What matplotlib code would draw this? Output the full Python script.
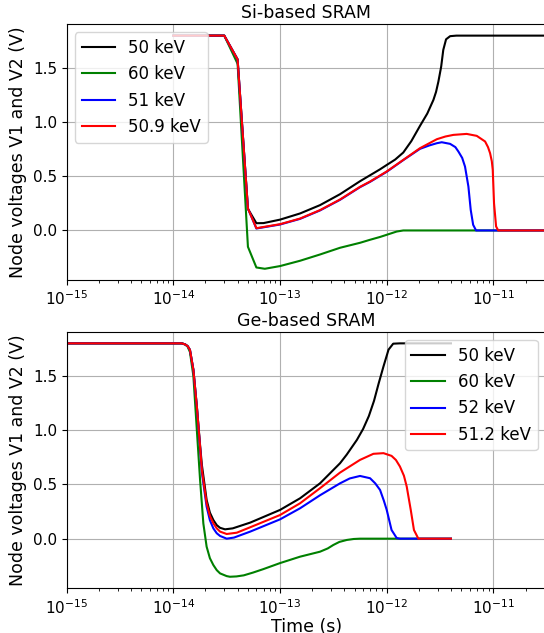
import matplotlib
matplotlib.use("Agg")
import matplotlib.pyplot as plt

# ---------------- Data: Si-based SRAM ----------------
si_labels = ["50 keV", "60 keV", "51 keV", "50.9 keV"]

si_t_50 = [1e-14, 2e-14, 3e-14, 4e-14, 5e-14, 6e-14, 7e-14, 1e-13, 1.54e-13, 2.37e-13,
           3.65e-13, 5.62e-13, 6.98e-13, 8.66e-13, 1e-12, 1.2e-12, 1.43e-12, 1.7e-12,
           2.05e-12, 2.4e-12, 2.74e-12, 2.9e-12, 3.05e-12, 3.24e-12, 3.39e-12, 3.6e-12,
           3.93e-12, 4.5e-12, 1e-10]
si_v_50 = [1.8, 1.8, 1.8, 1.58, 0.20, 0.067, 0.068, 0.10, 0.157, 0.234,
           0.335, 0.455, 0.51, 0.565, 0.605, 0.655, 0.72, 0.825,
           0.966, 1.08, 1.206, 1.28, 1.375, 1.514, 1.668, 1.766,
           1.795, 1.80, 1.80]

si_t_60 = [1e-14, 2e-14, 3e-14, 4e-14, 5e-14, 6e-14, 7.2e-14, 1e-13, 1.54e-13, 2.37e-13,
           3.65e-13, 5.62e-13, 6.98e-13, 8.66e-13, 1e-12, 1.24e-12, 1.43e-12, 1e-10]
si_v_60 = [1.8, 1.8, 1.8, 1.54, -0.151, -0.342, -0.354, -0.329, -0.28, -0.222,
           -0.16, -0.114, -0.086, -0.06, -0.04, -0.01, 0.0, 0.0]

si_t_51 = [1e-14, 2e-14, 3e-14, 4e-14, 5e-14, 6e-14, 1e-13, 1.54e-13, 2.37e-13, 3.65e-13,
           5.62e-13, 6.98e-13, 1e-12, 1.43e-12, 2.05e-12, 2.5e-12, 2.95e-12, 3.28e-12,
           3.93e-12, 4.4e-12, 4.7e-12, 5.1e-12, 5.42e-12, 5.83e-12, 6.13e-12, 6.46e-12,
           6.88e-12, 1e-10]
si_v_51 = [1.8, 1.8, 1.8, 1.58, 0.203, 0.018, 0.055, 0.107, 0.185, 0.283,
           0.40, 0.449, 0.542, 0.65, 0.754, 0.785, 0.806, 0.815,
           0.80, 0.77, 0.729, 0.67, 0.59, 0.406, 0.19, 0.052,
           0.0, 0.0]

si_t_509 = [1e-14, 2e-14, 3e-14, 4e-14, 5e-14, 6e-14, 1e-13, 1.54e-13, 2.37e-13, 3.65e-13,
            5.62e-13, 6.98e-13, 1e-12, 1.43e-12, 2.05e-12, 2.95e-12, 3.55e-12, 4.22e-12,
            5.62e-12, 6.98e-12, 8.36e-12, 8.9e-12, 9.31e-12, 9.66e-12, 9.86e-12, 1.014e-11,
            1.06e-11, 1.11e-11, 1e-10]
si_v_509 = [1.8, 1.8, 1.8, 1.58, 0.203, 0.021, 0.058, 0.11, 0.188, 0.286,
            0.403, 0.452, 0.545, 0.652, 0.76, 0.843, 0.868, 0.883,
            0.892, 0.874, 0.822, 0.77, 0.714, 0.64, 0.56, 0.25,
            0.037, 0.0, 0.0]

# ---------------- Data: Ge-based SRAM ----------------
ge_labels = ["50 keV", "60 keV", "52 keV", "51.2 keV"]

ge_t_50 = [1e-15, 1.2e-14, 1.29e-14, 1.36e-14, 1.43e-14, 1.54e-14, 1.66e-14, 1.78e-14, 1.85e-14,
           2.05e-14, 2.2e-14, 2.37e-14, 2.55e-14, 2.74e-14, 3.05e-14, 3.6e-14, 5.25e-14, 1e-13,
           1.54e-13, 2.37e-13, 3.65e-13, 4.22e-13, 5.25e-13, 6.0e-13, 6.8e-13, 7.6e-13,
           8.4e-13, 9.33e-13, 1.04e-12, 1.15e-12, 1.33e-12, 4e-12]
ge_v_50 = [1.8, 1.8, 1.79, 1.775, 1.74, 1.557, 1.218, 0.86, 0.68,
           0.357, 0.24, 0.172, 0.125, 0.10, 0.086, 0.095, 0.148, 0.265,
           0.372, 0.51, 0.695, 0.775, 0.91, 1.01, 1.13, 1.27,
           1.43, 1.588, 1.742, 1.797, 1.8, 1.8]

ge_t_60 = [1e-15, 1.2e-14, 1.29e-14, 1.36e-14, 1.43e-14, 1.54e-14, 1.66e-14, 1.78e-14, 1.91e-14,
           2.05e-14, 2.2e-14, 2.37e-14, 2.55e-14, 2.74e-14, 3.16e-14, 3.39e-14, 3.9e-14,
           4.57e-14, 5.6e-14, 7e-14, 1e-13, 1.54e-13, 2.37e-13, 2.8e-13, 3.16e-13,
           3.6e-13, 4.22e-13, 4.9e-13, 5.62e-13, 4e-12]
ge_v_60 = [1.8, 1.8, 1.79, 1.77, 1.72, 1.50, 1.0, 0.54, 0.14,
           -0.074, -0.18, -0.243, -0.29, -0.32, -0.345, -0.351, -0.348,
           -0.338, -0.312, -0.28, -0.225, -0.166, -0.12, -0.09, -0.058,
           -0.03, -0.012, -0.003, 0.0, 0.0]

ge_t_52 = [1e-15, 1.2e-14, 1.29e-14, 1.36e-14, 1.43e-14, 1.54e-14, 1.66e-14, 1.78e-14, 1.85e-14,
           2.05e-14, 2.2e-14, 2.37e-14, 2.55e-14, 2.74e-14, 3.16e-14, 3.7e-14, 5.25e-14, 1e-13,
           1.54e-13, 2.37e-13, 3.65e-13, 4.5e-13, 5.62e-13, 6.98e-13, 7.8e-13, 8.66e-13,
           9.4e-13, 1e-12, 1.11e-12, 1.24e-12, 1.33e-12, 4e-12]
ge_v_52 = [1.8, 1.8, 1.79, 1.775, 1.74, 1.557, 1.218, 0.84, 0.61,
           0.295, 0.17, 0.095, 0.05, 0.025, 0.0, 0.01, 0.065, 0.178,
           0.28, 0.40, 0.51, 0.555, 0.578, 0.557, 0.51, 0.449,
           0.35, 0.265, 0.08, 0.006, 0.0, 0.0]

ge_t_512 = [1e-15, 1.2e-14, 1.29e-14, 1.36e-14, 1.43e-14, 1.54e-14, 1.66e-14, 1.78e-14, 1.85e-14,
            2.05e-14, 2.2e-14, 2.37e-14, 2.55e-14, 2.74e-14, 3.16e-14, 3.93e-14, 5.25e-14, 1e-13,
            1.54e-13, 2.37e-13, 3.65e-13, 5.62e-13, 7.5e-13, 9.33e-13, 1.11e-12, 1.22e-12,
            1.33e-12, 1.45e-12, 1.54e-12, 1.68e-12, 1.8e-12, 1.98e-12, 4e-12]
ge_v_512 = [1.8, 1.8, 1.79, 1.775, 1.74, 1.557, 1.218, 0.85, 0.634,
            0.326, 0.21, 0.142, 0.095, 0.065, 0.043, 0.055, 0.105, 0.218,
            0.326, 0.465, 0.609, 0.726, 0.782, 0.788, 0.763, 0.725,
            0.665, 0.58, 0.48, 0.265, 0.08, 0.0, 0.0]

colors = ["k", "g", "b", "r"]

fig = plt.figure(figsize=(5.44, 6.33), dpi=100)
ax1 = fig.add_axes([0.1226, 0.5577, 0.881, 0.4044])
ax2 = fig.add_axes([0.1226, 0.0706, 0.881, 0.4054])

si_series = [(si_t_50, si_v_50), (si_t_60, si_v_60), (si_t_51, si_v_51), (si_t_509, si_v_509)]
ge_series = [(ge_t_50, ge_v_50), (ge_t_60, ge_v_60), (ge_t_52, ge_v_52), (ge_t_512, ge_v_512)]

for ax, series, labels, title in [(ax1, si_series, si_labels, "Si-based SRAM"),
                                   (ax2, ge_series, ge_labels, "Ge-based SRAM")]:
    for (t, v), c, lab in zip(series, colors, labels):
        ax.plot(t, v, color=c, lw=1.5, label=lab)
    ax.set_xscale("log")
    ax.set_xlim(1e-15, 3.11e-11)
    ax.set_ylim(-0.4575, 1.9075)
    ax.set_yticks([0.0, 0.5, 1.0, 1.5])
    ax.grid(True, which="major", color="#b0b0b0", lw=0.8)
    ax.tick_params(labelsize=11)
    ax.set_ylabel("Node voltages V1 and V2 (V)", fontsize=12.5)
    ax.set_title(title, fontsize=12.5, pad=4)

ax1.legend(loc="upper left", fontsize=12)
ax2.legend(loc="upper right", fontsize=12)
ax2.set_xlabel("Time (s)", fontsize=12.5, labelpad=1)

fig.savefig("out.png", dpi=100)
